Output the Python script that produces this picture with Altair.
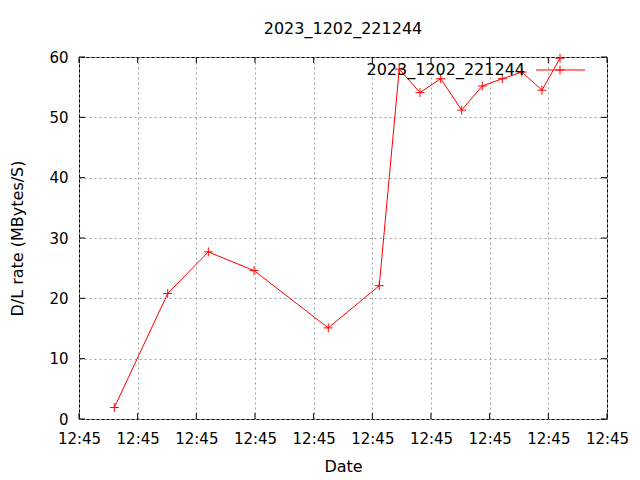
import altair as alt
import pandas as pd

title_text = "2023_1202_221244"
series_name = "2023_1202_221244"
x_pos = [0.602, 1.512, 2.204, 2.983, 4.249, 5.118, 5.459, 5.812, 6.165, 6.523, 6.874, 7.215, 7.551, 7.892, 8.199]
rates = [1.9, 20.8, 27.7, 24.6, 15.1, 22.1, 58.0, 54.1, 56.4, 51.2, 55.2, 56.4, 57.5, 54.5, 59.8]
x_ticks = [0, 1, 2, 3, 4, 5, 6, 7, 8, 9]
x_tick_label = "12:45"
y_ticks = [0, 10, 20, 30, 40, 50, 60]

W, H = 528, 362
FONT = "DejaVu Sans"
RED = "#ff0000"
PLUS = "M-1,0L1,0M0,-1L0,1"

df = pd.DataFrame({"t": x_pos, "rate": rates})
xt = pd.DataFrame({"t": x_ticks})
yt = pd.DataFrame({"v": y_ticks})

xscale = alt.Scale(domain=[0, 9], nice=False, zero=False)
yscale = alt.Scale(domain=[0, 60], nice=False)

xax = alt.Axis(values=x_ticks, labelExpr=f"'{x_tick_label}'", title="Date",
               ticks=False, labelPadding=12, titleY=47, titleBaseline="middle",
               labelFlush=False, labelOverlap=False)
yax = alt.Axis(values=y_ticks, title="D/L rate (MBytes/S)", ticks=False,
               labelPadding=11, titleX=-62, titleBaseline="middle", titleAngle=270,
               titleAlign="center", labelBaseline="middle")

base = alt.Chart(df)

line = base.mark_line(color=RED, strokeWidth=1).encode(
    x=alt.X("t:Q", scale=xscale, axis=xax),
    y=alt.Y("rate:Q", scale=yscale, axis=yax),
)
pts = base.mark_point(shape=PLUS, size=80, color=RED, filled=False, strokeWidth=1, opacity=1).encode(
    x=alt.X("t:Q", scale=xscale, axis=xax),
    y=alt.Y("rate:Q", scale=yscale, axis=yax),
)

tick_b = alt.Chart(xt).mark_rule(color="black", strokeWidth=1).encode(
    x=alt.X("t:Q", scale=xscale, axis=xax), y=alt.value(H), y2=alt.value(H - 6))
tick_t = alt.Chart(xt).mark_rule(color="black", strokeWidth=1).encode(
    x=alt.X("t:Q", scale=xscale, axis=xax), y=alt.value(0), y2=alt.value(6))
tick_l = alt.Chart(yt).mark_rule(color="black", strokeWidth=1).encode(
    y=alt.Y("v:Q", scale=yscale, axis=yax), x=alt.value(0), x2=alt.value(6))
tick_r = alt.Chart(yt).mark_rule(color="black", strokeWidth=1).encode(
    y=alt.Y("v:Q", scale=yscale, axis=yax), x=alt.value(W), x2=alt.value(W - 6))

leg = pd.DataFrame({"name": [series_name]})
leg_text = alt.Chart(leg).mark_text(align="right", baseline="middle", font=FONT, fontSize=16, color="black").encode(
    text="name:N", x=alt.value(446), y=alt.value(13))
leg_line = alt.Chart(leg).mark_rule(color=RED, strokeWidth=1).encode(
    x=alt.value(457), x2=alt.value(506), y=alt.value(13))
leg_pt = alt.Chart(leg).mark_point(shape=PLUS, size=80, color=RED, filled=False, strokeWidth=1, opacity=1).encode(
    x=alt.value(481), y=alt.value(13))

chart = alt.layer(line, pts, tick_b, tick_t, tick_l, tick_r, leg_text, leg_line, leg_pt).properties(
    width=W, height=H,
    background="white",
    title=alt.TitleParams(title_text, font=FONT, fontSize=16, fontWeight="normal", color="black",
                          anchor="middle", offset=13),
    autosize=alt.AutoSizeParams(type="none"),
    padding={"left": 71, "top": 49, "right": 25, "bottom": 55},
).configure_view(stroke="black", strokeWidth=1).configure_axis(
    labelFont=FONT, labelFontSize=15, labelColor="black",
    titleFont=FONT, titleFontSize=16, titleFontWeight="normal", titleColor="black",
    domain=False, grid=True, gridColor="#a0a0a0", gridDash=[2, 3], gridOpacity=1, gridWidth=1,
)

chart.save("out.html", embed_options={"renderer": "svg", "actions": False})
